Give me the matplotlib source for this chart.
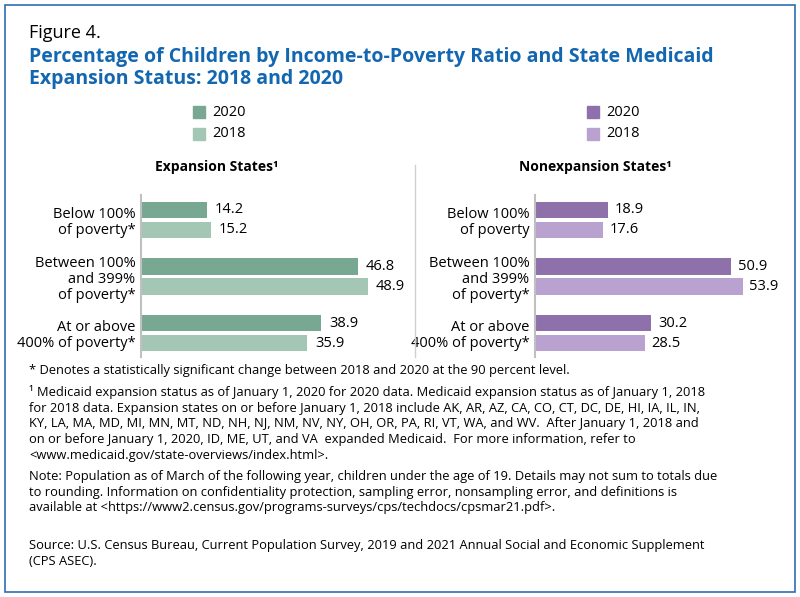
import matplotlib
matplotlib.use("Agg")
import matplotlib.pyplot as plt
from matplotlib.patches import Rectangle

plt.rcParams["font.family"] = ["Open Sans", "DejaVu Sans"]

# Data
exp_labels = ["Below 100%\nof poverty*", "Between 100%\nand 399%\nof poverty*", "At or above\n400% of poverty*"]
non_labels = ["Below 100%\nof poverty", "Between 100%\nand 399%\nof poverty*", "At or above\n400% of poverty*"]
exp_2020 = [14.2, 46.8, 38.9]
exp_2018 = [15.2, 48.9, 35.9]
non_2020 = [18.9, 50.9, 30.2]
non_2018 = [17.6, 53.9, 28.5]

GREEN_20, GREEN_18 = "#78a891", "#a4c6b4"
PURP_20, PURP_18 = "#8e70ab", "#b9a1d0"
BLUE = "#1367b0"

W, H = 800, 597
fig = plt.figure(figsize=(W / 100, H / 100), dpi=100)


def fx(px):
    return px / W


def fy(py):
    return 1 - py / H


# border
fig.patches.append(Rectangle((fx(5), fy(592)), fx(790), (587) / H, transform=fig.transFigure,
                             fill=False, edgecolor="#2d6db5", linewidth=1.2))

fig.text(fx(29), fy(33), "Figure 4.", fontsize=13, va="center", ha="left")
fig.text(fx(29), fy(68), "Percentage of Children by Income-to-Poverty Ratio and State Medicaid\nExpansion Status: 2018 and 2020",
         fontsize=14, fontweight="bold", color=BLUE, va="center", ha="left", linespacing=1.15)


def panel(x0, x1, xmax, labels, v20, v18, c20, c18, title, legx, titlex):
    ax = fig.add_axes([fx(x0), fy(357), fx(x1 - x0), (357 - 195) / H])
    n = len(labels)
    ys = list(range(n))
    off, h = 0.177, 0.29
    b1 = ax.barh([y - off for y in ys], v20, height=h, color=c20)
    b2 = ax.barh([y + off for y in ys], v18, height=h, color=c18)
    for bars, vals in ((b1, v20), (b2, v18)):
        for b, v in zip(bars, vals):
            ax.text(v + xmax * 0.03, b.get_y() + b.get_height() / 2, f"{v:.1f}",
                    va="center", ha="left", fontsize=10.5)
    ax.set_xlim(0, xmax)
    ax.set_ylim(2.42, -0.44)
    ax.set_yticks(ys)
    ax.set_yticklabels(labels, fontsize=10.5, linespacing=1.1, ha="right")
    ax.tick_params(axis="y", length=0, pad=4)
    ax.set_xticks([])
    for s in ("top", "right", "bottom"):
        ax.spines[s].set_visible(False)
    ax.spines["left"].set_color("#c0c0c0")
    ax.spines["left"].set_linewidth(1.5)
    fig.text(fx(titlex), fy(167), title, fontsize=10, fontweight="bold", ha="center", va="center")
    for yy, col, yr in ((112, c20, "2020"), (134, c18, "2018")):
        fig.patches.append(Rectangle((fx(legx), fy(yy + 6)), fx(12), 12 / H,
                                     transform=fig.transFigure, color=col))
        fig.text(fx(legx + 19), fy(yy), yr, fontsize=10.5, va="center", ha="left")
    return ax


panel(141, 396, 55, exp_labels, exp_2020, exp_2018, GREEN_20, GREEN_18,
      "Expansion States\u00b9", 193, 217)
panel(535, 766, 60, non_labels, non_2020, non_2018, PURP_20, PURP_18,
      "Nonexpansion States\u00b9", 587, 595)

# separator
fig.add_artist(plt.Line2D([fx(415), fx(415)], [fy(165), fy(357)], color="#d0d0d0", linewidth=1))

notes = [
    (372, "* Denotes a statistically significant change between 2018 and 2020 at the 90 percent level."),
    (393, "\u00b9 Medicaid expansion status as of January 1, 2020 for 2020 data. Medicaid expansion status as of January 1, 2018\n"
          "for 2018 data. Expansion states on or before January 1, 2018 include AK, AR, AZ, CA, CO, CT, DC, DE, HI, IA, IL, IN,\n"
          "KY, LA, MA, MD, MI, MN, MT, ND, NH, NJ, NM, NV, NY, OH, OR, PA, RI, VT, WA, and WV.  After January 1, 2018 and\n"
          "on or before January 1, 2020, ID, ME, UT, and VA  expanded Medicaid.  For more information, refer to\n"
          "<www.medicaid.gov/state-overviews/index.html>."),
    (478, "Note: Population as of March of the following year, children under the age of 19. Details may not sum to totals due\n"
          "to rounding. Information on confidentiality protection, sampling error, nonsampling error, and definitions is\n"
          "available at <https://www2.census.gov/programs-surveys/cps/techdocs/cpsmar21.pdf>."),
    (547, "Source: U.S. Census Bureau, Current Population Survey, 2019 and 2021 Annual Social and Economic Supplement\n"
          "(CPS ASEC)."),
]
for ypx, txt in notes:
    fig.text(fx(29), fy(ypx - 8), txt, fontsize=9.3, va="top", ha="left", linespacing=1.27)

fig.savefig("out.png", dpi=100)
